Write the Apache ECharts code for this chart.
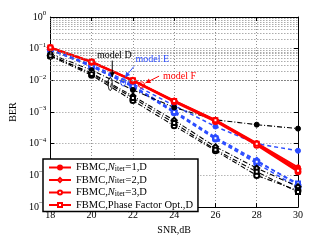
<!DOCTYPE html>
<html><head><meta charset="utf-8">
<script src="https://cdn.jsdelivr.net/npm/echarts@6/dist/echarts.min.js"></script>
<style>html,body{margin:0;padding:0;background:#fff}#c{width:330px;height:240px}</style>
</head><body><div id="c"></div>
<script>
const snr = [18, 20, 22, 24, 26, 28, 30];
const xTicks = [18, 20, 22, 24, 26, 28, 30];
const yTicks = [1, 1e-1, 1e-2, 1e-3, 1e-4, 1e-5, 1e-6];
// model F (red)
const berF1 = [0.110, 0.039, 0.0102, 2.3e-3, 5.7e-4, 1.05e-4, 1.8e-5];
const berF2 = [0.108, 0.038, 0.0099, 2.2e-3, 5.4e-4, 9.8e-5, 1.6e-5];
const berF3 = [0.107, 0.037, 0.0096, 2.1e-3, 5.0e-4, 9.0e-5, 1.3e-5];
const berF4 = [0.109, 0.0385, 0.0100, 2.25e-3, 5.5e-4, 1.0e-4, 1.4e-5];
// model E (blue)
const berE1 = [0.098, 0.031, 7.7e-3, 1.6e-3, 3.5e-4, 1.0e-4, 6.0e-5];
const berE2 = [0.095, 0.029, 6.8e-3, 1.1e-3, 1.6e-4, 3.0e-5, 5.0e-6];
const berE3 = [0.092, 0.027, 6.2e-3, 9.5e-4, 1.4e-4, 2.4e-5, 4.2e-6];
const berE4 = [0.093, 0.028, 6.5e-3, 1.0e-3, 1.5e-4, 2.7e-5, 5.6e-6];
// model D (black)
const berD1 = [0.068, 0.021, 5.0e-3, 1.4e-3, 5.7e-4, 4.0e-4, 3.0e-4];
const berD2 = [0.062, 0.017, 3.2e-3, 5.5e-4, 8.0e-5, 1.7e-5, 4.4e-6];
const berD3 = [0.058, 0.0146, 2.3e-3, 3.7e-4, 6.0e-5, 1.0e-5, 3.3e-6];
const berD4 = [0.060, 0.016, 2.8e-3, 4.5e-4, 6.5e-5, 1.3e-5, 3.0e-6];
const legendNames = ['FBMC,N_iter=1,D', 'FBMC,N_iter=2,D', 'FBMC,N_iter=3,D', 'FBMC,Phase Factor Opt.,D'];

const FONT = 'Liberation Serif';
const RED = '#ff0000', BLUE = '#2b4cff', BLACK = '#000000';
const symbols = ['circle', 'emptyDiamond', 'emptyCircle', 'emptyRect'];
const symSizes = [5, 5, 5, 4];

const minorVals = [];
for (let n = -6; n <= -1; n++) for (let k = 2; k <= 9; k++) minorVals.push(k * Math.pow(10, n));

function mk(name, data, color, idx, lw, dash, inLegend) {
  return {
    type: 'line', name: name, data: snr.map((x, i) => [x, data[i]]),
    symbol: symbols[idx], symbolSize: symSizes[idx],
    lineStyle: { color: color, width: lw, type: dash },
    itemStyle: { color: color, borderColor: color, borderWidth: 1 },
    emphasis: { disabled: true }, z: inLegend ? 4 : 3, silent: true
  };
}

const series = [
  mk('e1', berE1, BLUE, 0, 1.5, [4, 3]),
  mk('e2', berE2, BLUE, 1, 1.5, [4, 3]),
  mk('e3', berE3, BLUE, 2, 1.5, [4, 3]),
  mk('e4', berE4, BLUE, 3, 1.5, [4, 3]),
  mk('d1', berD1, BLACK, 0, 1.1, [5, 2, 1, 2]),
  mk('d2', berD2, BLACK, 1, 1.1, [5, 2, 1, 2]),
  mk('d3', berD3, BLACK, 2, 1.1, [5, 2, 1, 2]),
  mk('d4', berD4, BLACK, 3, 1.1, [5, 2, 1, 2]),
  mk(legendNames[0], berF1, RED, 0, 1.8, 'solid', true),
  mk(legendNames[1], berF2, RED, 1, 1.8, 'solid', true),
  mk(legendNames[2], berF3, RED, 2, 1.8, 'solid', true),
  mk(legendNames[3], berF4, RED, 3, 1.8, 'solid', true)
];
series[0].markLine = {
  silent: true, symbol: 'none', label: { show: false }, animation: false,
  lineStyle: { color: '#808080', width: 1, type: [1, 2] },
  emphasis: { disabled: true },
  data: minorVals.map(v => ({ yAxis: v }))
};

const chart = echarts.init(document.getElementById('c'), null, { renderer: 'canvas' });
const axLine = { show: true, lineStyle: { color: '#000', width: 1 } };
const tickIn = { show: true, inside: true, length: 4, lineStyle: { color: '#000' } };
const grid = { left: 43, right: 32, top: 17, bottom: 27 };

chart.setOption({
  animation: false,
  backgroundColor: '#fff',
  grid: grid,
  legend: {
    data: legendNames, orient: 'vertical', left: 43, top: 159,
    width: 150, itemWidth: 22, itemHeight: 5, itemGap: 1.5,
    padding: [3, 5, 1, 5], backgroundColor: '#fff',
    borderColor: '#000', borderWidth: 1.5, borderRadius: 0, z: 20,
    selectedMode: false,
    textStyle: {
      fontFamily: FONT, fontSize: 10.5, color: '#000', lineHeight: 10,
      rich: {
        t: { fontFamily: FONT, fontSize: 10.5, color: '#000', lineHeight: 10, verticalAlign: 'middle' },
        i: { fontFamily: FONT, fontSize: 10.5, fontStyle: 'italic', color: '#000', lineHeight: 10, verticalAlign: 'middle' },
        s: { fontFamily: FONT, fontSize: 8, color: '#000', lineHeight: 3, verticalAlign: 'bottom' }
      }
    },
    formatter: function (name) {
      const m = name.match(/^(.*)N_iter(.*)$/);
      if (m) return '{t|' + m[1] + '}{i|N}{s|iter}{t|' + m[2] + '}';
      return '{t|' + name + '}';
    }
  },
  xAxis: [
    {
      type: 'value', min: 18, max: 30, interval: 2, position: 'bottom',
      name: 'SNR,dB', nameLocation: 'middle', nameGap: 12,
      nameTextStyle: { fontFamily: FONT, fontSize: 10, color: '#000' },
      axisLine: axLine, axisTick: tickIn,
      axisLabel: { fontFamily: FONT, fontSize: 10, color: '#000', margin: 3,
        formatter: v => xTicks.indexOf(v) >= 0 ? String(v) : '' },
      splitLine: { show: true, lineStyle: { color: '#909090', width: 1, type: [1, 2] } }
    },
    {
      type: 'value', min: 18, max: 30, interval: 2, position: 'top',
      axisLine: axLine, axisTick: tickIn, axisLabel: { show: false }, splitLine: { show: false }
    }
  ],
  yAxis: [
    {
      type: 'log', logBase: 10, min: 1e-6, max: 1, position: 'left',
      name: 'BER', nameLocation: 'middle', nameGap: 26, nameRotate: 90,
      nameTextStyle: { fontFamily: FONT, fontSize: 10, color: '#000' },
      axisLine: axLine, axisTick: tickIn,
      axisLabel: {
        fontFamily: FONT, fontSize: 10, color: '#000', margin: 4,
        formatter: function (v) {
          const e = Math.round(Math.log10(v));
          return '{b|10}{s|' + (e === 0 ? '0' : '\u2212' + (-e)) + '}';
        },
        rich: {
          b: { fontFamily: FONT, fontSize: 10, color: '#000' },
          s: { fontFamily: FONT, fontSize: 7, color: '#000', padding: [0, 0, 7, 0] }
        }
      },
      splitLine: { show: true, lineStyle: { color: '#909090', width: 1, type: [1, 2] } }
    },
    {
      type: 'log', logBase: 10, min: 1e-6, max: 1, position: 'right',
      axisLine: axLine, axisTick: tickIn, axisLabel: { show: false }, splitLine: { show: false }
    }
  ],
  series: series
});

function px(x, y) { return chart.convertToPixel({ xAxisIndex: 0, yAxisIndex: 0 }, [x, y]); }
function arrow(from, to, color) {
  const a = px(from[0], from[1]), b = px(to[0], to[1]);
  const ang = Math.atan2(b[1] - a[1], b[0] - a[0]);
  const L = 5, W = 2.5;
  const p1 = [b[0] - L * Math.cos(ang) + W * Math.sin(ang), b[1] - L * Math.sin(ang) - W * Math.cos(ang)];
  const p2 = [b[0] - L * Math.cos(ang) - W * Math.sin(ang), b[1] - L * Math.sin(ang) + W * Math.cos(ang)];
  return [
    { type: 'line', shape: { x1: a[0], y1: a[1], x2: b[0], y2: b[1] }, style: { stroke: color, lineWidth: 1 }, z: 30 },
    { type: 'polygon', shape: { points: [b, p1, p2] }, style: { fill: color }, z: 30 }
  ];
}
function ell(c, rx, ry, color) {
  const p = px(c[0], c[1]);
  return { type: 'ellipse', shape: { cx: p[0], cy: p[1], rx: rx, ry: ry }, style: { fill: 'none', stroke: color, lineWidth: 1 }, z: 30 };
}
function txt(c, s, color) {
  const p = px(c[0], c[1]);
  return { type: 'text', x: p[0], y: p[1], z: 30,
    style: { text: s, fill: color, font: '10px "Liberation Serif"', align: 'center', verticalAlign: 'middle' } };
}
const g = [].concat(
  [txt([21.1, 0.060], 'model D', BLACK)],
  arrow([21.0, 0.042], [21.0, 0.0126], BLACK),
  [ell([20.9, 7.7e-3], 2, 6.5, BLACK)],
  [txt([22.94, 0.045], 'model E', BLUE)],
  arrow([22.05, 0.0275], [21.62, 0.0126], BLUE),
  [ell([21.53, 8.9e-3], 2.5, 4, BLUE)],
  [txt([24.26, 0.0136], 'model F', RED)],
  arrow([23.27, 0.0136], [22.61, 8.3e-3], RED),
  [ell([22.42, 7.2e-3], 3, 3, RED)]
);
chart.setOption({ graphic: g });
</script></body></html>
